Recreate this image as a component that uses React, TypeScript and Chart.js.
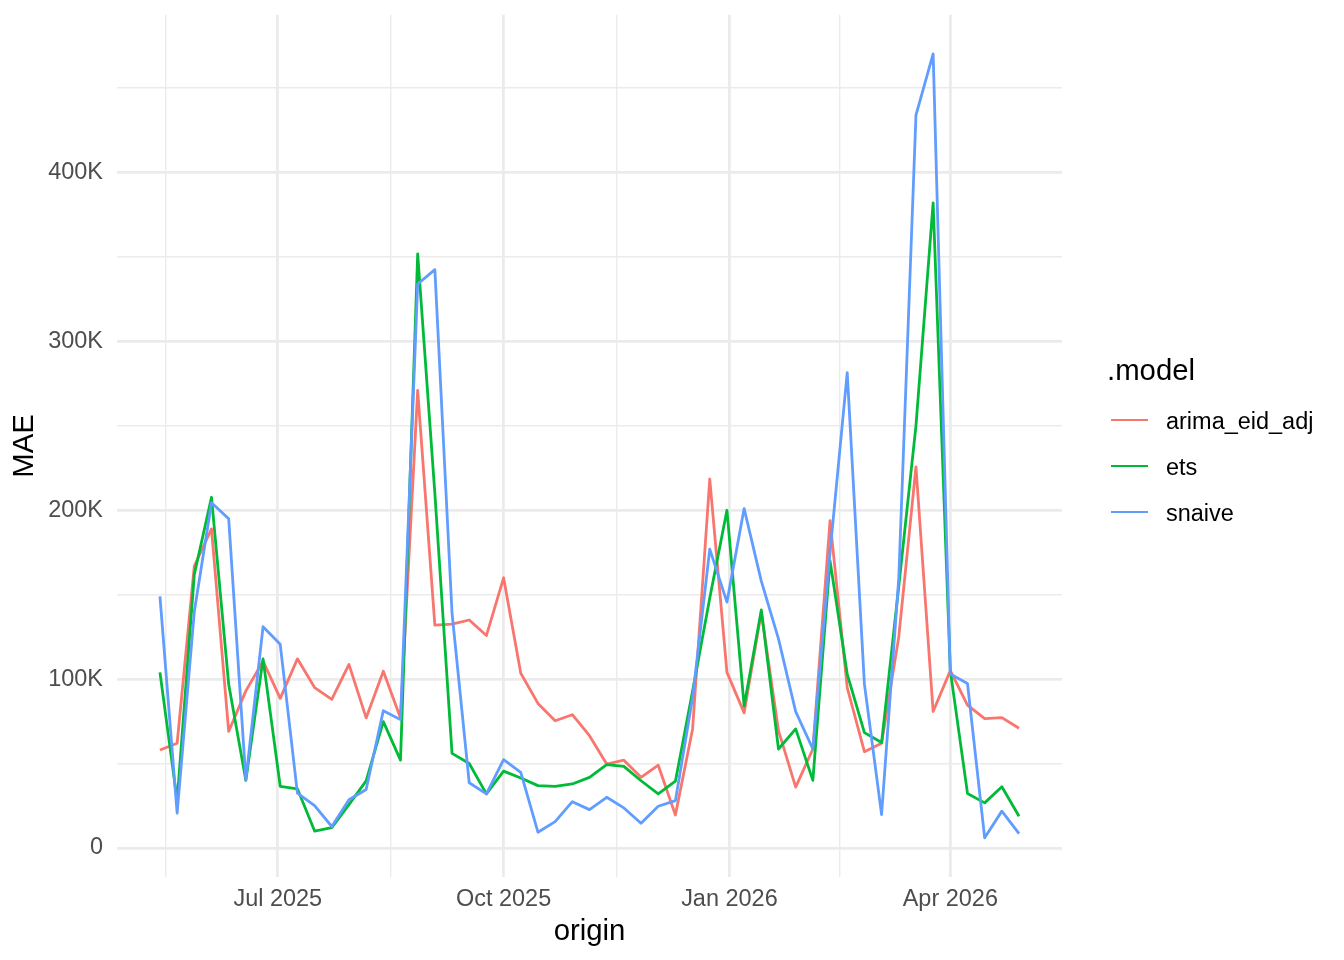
import { useEffect, useRef } from "react";
import { Chart, registerables } from "chart.js";

Chart.register(...registerables);

// ---- data ----
const ORIGINS = [
  "2025-05-14", "2025-05-21", "2025-05-28", "2025-06-04", "2025-06-11", "2025-06-18", "2025-06-25",
  "2025-07-02", "2025-07-09", "2025-07-16", "2025-07-23", "2025-07-30", "2025-08-06", "2025-08-13",
  "2025-08-20", "2025-08-27", "2025-09-03", "2025-09-10", "2025-09-17", "2025-09-24", "2025-10-01",
  "2025-10-08", "2025-10-15", "2025-10-22", "2025-10-29", "2025-11-05", "2025-11-12", "2025-11-19",
  "2025-11-26", "2025-12-03", "2025-12-10", "2025-12-17", "2025-12-24", "2025-12-31", "2026-01-07",
  "2026-01-14", "2026-01-21", "2026-01-28", "2026-02-04", "2026-02-11", "2026-02-18", "2026-02-25",
  "2026-03-04", "2026-03-11", "2026-03-18", "2026-03-25", "2026-04-01", "2026-04-08", "2026-04-15",
  "2026-04-22", "2026-04-29",
];

const ARIMA_EID_ADJ = [
  58000, 62000, 167000, 189000, 69000, 93000, 110600, 88600, 112000, 95000, 88000, 108700, 77000,
  104700, 77000, 271000, 132000, 132500, 135000, 125800, 160000, 103500, 85600, 75300, 78900, 66500,
  49700, 52000, 41800, 49000, 19500, 70500, 218500, 104000, 80000, 139600, 69500, 36000, 58600,
  193800, 95000, 57000, 62000, 125000, 225700, 80800, 105000, 84600, 76600, 77200, 70900,
];

const ETS = [
  104000, 28000, 162000, 207700, 97000, 40000, 112000, 36500, 35000, 10000, 12000, 25700, 39700,
  74800, 52000, 351800, 210000, 56000, 50000, 32000, 45500, 41400, 36900, 36500, 37900, 41800,
  49300, 48300, 39800, 32000, 39500, 93000, 148000, 200000, 84000, 141000, 58600, 70500, 40000,
  170000, 103000, 68300, 62400, 155000, 250000, 382000, 105000, 32300, 26700, 36200, 18800,
];

const SNAIVE = [
  149000, 20600, 140000, 204500, 195000, 40500, 131000, 120600, 32500, 25000, 12700, 28500, 34600,
  81300, 76000, 334000, 342500, 139000, 38600, 32000, 52300, 44800, 9300, 15600, 27400, 22700,
  30000, 23700, 14600, 24700, 28000, 89000, 177000, 145600, 201000, 158000, 123800, 80700, 58600,
  175000, 281500, 97000, 19800, 160000, 434000, 470300, 103000, 97400, 6000, 21800, 8500,
];

const SERIES_NAMES = ["arima_eid_adj", "ets", "snaive"];
const SERIES_COLORS = ["#F8766D", "#00BA38", "#619CFF"];

const X_BREAKS = ["2025-04-01", "2025-07-01", "2025-10-01", "2026-01-01", "2026-04-01", "2026-07-01"];
const X_BREAK_LABELS = ["Apr 2025", "Jul 2025", "Oct 2025", "Jan 2026", "Apr 2026", "Jul 2026"];

const Y_MAJOR = [0, 100000, 200000, 300000, 400000, 500000];
const Y_MAJOR_LABELS = ["0", "100K", "200K", "300K", "400K", "500K"];
const Y_MINOR = [50000, 150000, 250000, 350000, 450000];

const LEGEND_TITLE = ".model";
const X_TITLE = "origin";
const Y_TITLE = "MAE";

// ---- helpers ----
const FONT = "'Liberation Sans', Arial, Helvetica, sans-serif";
const GRID = "#EBEBEB";
const CLEAR = "rgba(0,0,0,0)";
const dayOf = (s: string) => {
  const [y, m, d] = s.split("-").map(Number);
  return Date.UTC(y, m - 1, d) / 86400000;
};

export default function App() {
  const ref = useRef<HTMLCanvasElement | null>(null);

  useEffect(() => {
    if (!ref.current) return;
    const xs = ORIGINS.map(dayOf);
    const all = [...ARIMA_EID_ADJ, ...ETS, ...SNAIVE];
    const yLo = Math.min(...all);
    const yHi = Math.max(...all);
    const yPad = (yHi - yLo) * 0.05;
    const yMin = yLo - yPad;
    const yMax = yHi + yPad;
    const xLo = Math.min(...xs);
    const xHi = Math.max(...xs);
    const xPad = (xHi - xLo) * 0.05;
    const xMin = xLo - xPad;
    const xMax = xHi + xPad;

    const majorAll = X_BREAKS.map(dayOf);
    const majorX: { v: number; label: string }[] = [];
    majorAll.forEach((v, i) => {
      if (v >= xMin && v <= xMax) majorX.push({ v, label: X_BREAK_LABELS[i] });
    });
    const minorX: number[] = [];
    for (let i = 0; i < majorAll.length - 1; i++) {
      const m = (majorAll[i] + majorAll[i + 1]) / 2;
      if (m >= xMin + 0.01 && m <= xMax - 0.01) minorX.push(m);
    }
    const xTickVals = [...minorX, ...majorX.map((d) => d.v)].sort((a, b) => a - b);
    const xLabelOf = (v: number) => {
      const f = majorX.find((d) => Math.abs(d.v - v) < 0.01);
      return f ? f.label : "";
    };
    const isMajorX = (v: number) => majorX.some((d) => Math.abs(d.v - v) < 0.01);

    const majorY: { v: number; label: string }[] = [];
    Y_MAJOR.forEach((v, i) => {
      if (v >= yMin && v <= yMax) majorY.push({ v, label: Y_MAJOR_LABELS[i] });
    });
    const minorY = Y_MINOR.filter((v) => v >= yMin && v <= yMax);
    const yTickVals = [...minorY, ...majorY.map((d) => d.v)].sort((a, b) => a - b);
    const yLabelOf = (v: number) => {
      const f = majorY.find((d) => Math.abs(d.v - v) < 0.5);
      return f ? f.label : "";
    };
    const isMajorY = (v: number) => majorY.some((d) => Math.abs(d.v - v) < 0.5);

    const seriesValues = [ARIMA_EID_ADJ, ETS, SNAIVE];

    const chart = new Chart(ref.current, {
      type: "line",
      data: {
        datasets: SERIES_NAMES.map((name, si) => ({
          label: name,
          data: xs.map((x, i) => ({ x, y: seriesValues[si][i] })),
          borderColor: SERIES_COLORS[si],
          backgroundColor: SERIES_COLORS[si],
          borderWidth: 2.8,
          pointRadius: 0,
          pointHoverRadius: 0,
          tension: 0,
          fill: false,
          borderJoinStyle: "round" as const,
          borderCapStyle: "butt" as const,
          order: SERIES_NAMES.length - si,
        })),
      },
      options: {
        responsive: false,
        animation: false,
        events: [],
        layout: { padding: { left: 0, right: 282, top: 14.7, bottom: 0 } },
        plugins: {
          legend: { display: false },
          tooltip: { enabled: false },
        },
        scales: {
          x: {
            type: "linear",
            min: xMin,
            max: xMax,
            afterBuildTicks: (axis: any) => {
              axis.ticks = xTickVals.map((v) => ({ value: v }));
            },
            afterFit: (scale: any) => {
              scale.height = 83;
            },
            grid: {
              color: GRID,
              lineWidth: (ctx: any) => (ctx.tick && isMajorX(ctx.tick.value) ? 2.8 : 1.4),
              drawTicks: true,
              tickLength: 8,
              tickColor: CLEAR,
            },
            border: { display: false },
            ticks: {
              autoSkip: false,
              maxRotation: 0,
              minRotation: 0,
              padding: 0,
              color: "#4D4D4D",
              font: { family: FONT, size: 23.47 },
              callback: (value: any) => xLabelOf(Number(value)),
            },
            title: {
              display: true,
              text: X_TITLE,
              color: "#000000",
              font: { family: FONT, size: 29.33 },
              padding: { top: 0, bottom: 10.5 },
            },
          },
          y: {
            type: "linear",
            min: yMin,
            max: yMax,
            afterBuildTicks: (axis: any) => {
              axis.ticks = yTickVals.map((v) => ({ value: v }));
            },
            afterFit: (scale: any) => {
              scale.width = 117;
            },
            grid: {
              color: GRID,
              lineWidth: (ctx: any) => (ctx.tick && isMajorY(ctx.tick.value) ? 2.8 : 1.4),
              drawTicks: true,
              tickLength: 14,
              tickColor: CLEAR,
            },
            border: { display: false },
            ticks: {
              autoSkip: false,
              padding: 0,
              color: "#4D4D4D",
              font: { family: FONT, size: 23.47 },
              callback: (value: any) => yLabelOf(Number(value)),
            },
            title: {
              display: true,
              text: Y_TITLE,
              color: "#000000",
              font: { family: FONT, size: 29.33 },
              padding: { top: 7.4, bottom: 0 },
            },
          },
        },
      },
    });
    return () => chart.destroy();
  }, []);

  const keyYs = [420, 466, 512];

  return (
    <div
      style={{
        position: "absolute",
        left: 0,
        top: 0,
        width: 1344,
        height: 960,
        background: "#FFFFFF",
        fontFamily: FONT,
      }}
    >
      <canvas ref={ref} width={1344} height={960} style={{ width: 1344, height: 960, display: "block" }} />
      <div
        style={{
          position: "absolute",
          left: 1107,
          top: 355.2,
          fontSize: 29.33,
          lineHeight: "29.33px",
          color: "#000000",
          whiteSpace: "nowrap",
        }}
      >
        {LEGEND_TITLE}
      </div>
      {SERIES_NAMES.map((name, i) => (
        <div key={name}>
          <div
            style={{
              position: "absolute",
              left: 1111,
              top: keyYs[i] - 1.4,
              width: 37,
              height: 2.8,
              background: SERIES_COLORS[i],
            }}
          />
          <div
            style={{
              position: "absolute",
              left: 1166,
              top: keyYs[i] + 9.7 - 19.87,
              fontSize: 23.47,
              lineHeight: "23.47px",
              color: "#000000",
              whiteSpace: "nowrap",
            }}
          >
            {name}
          </div>
        </div>
      ))}
    </div>
  );
}
